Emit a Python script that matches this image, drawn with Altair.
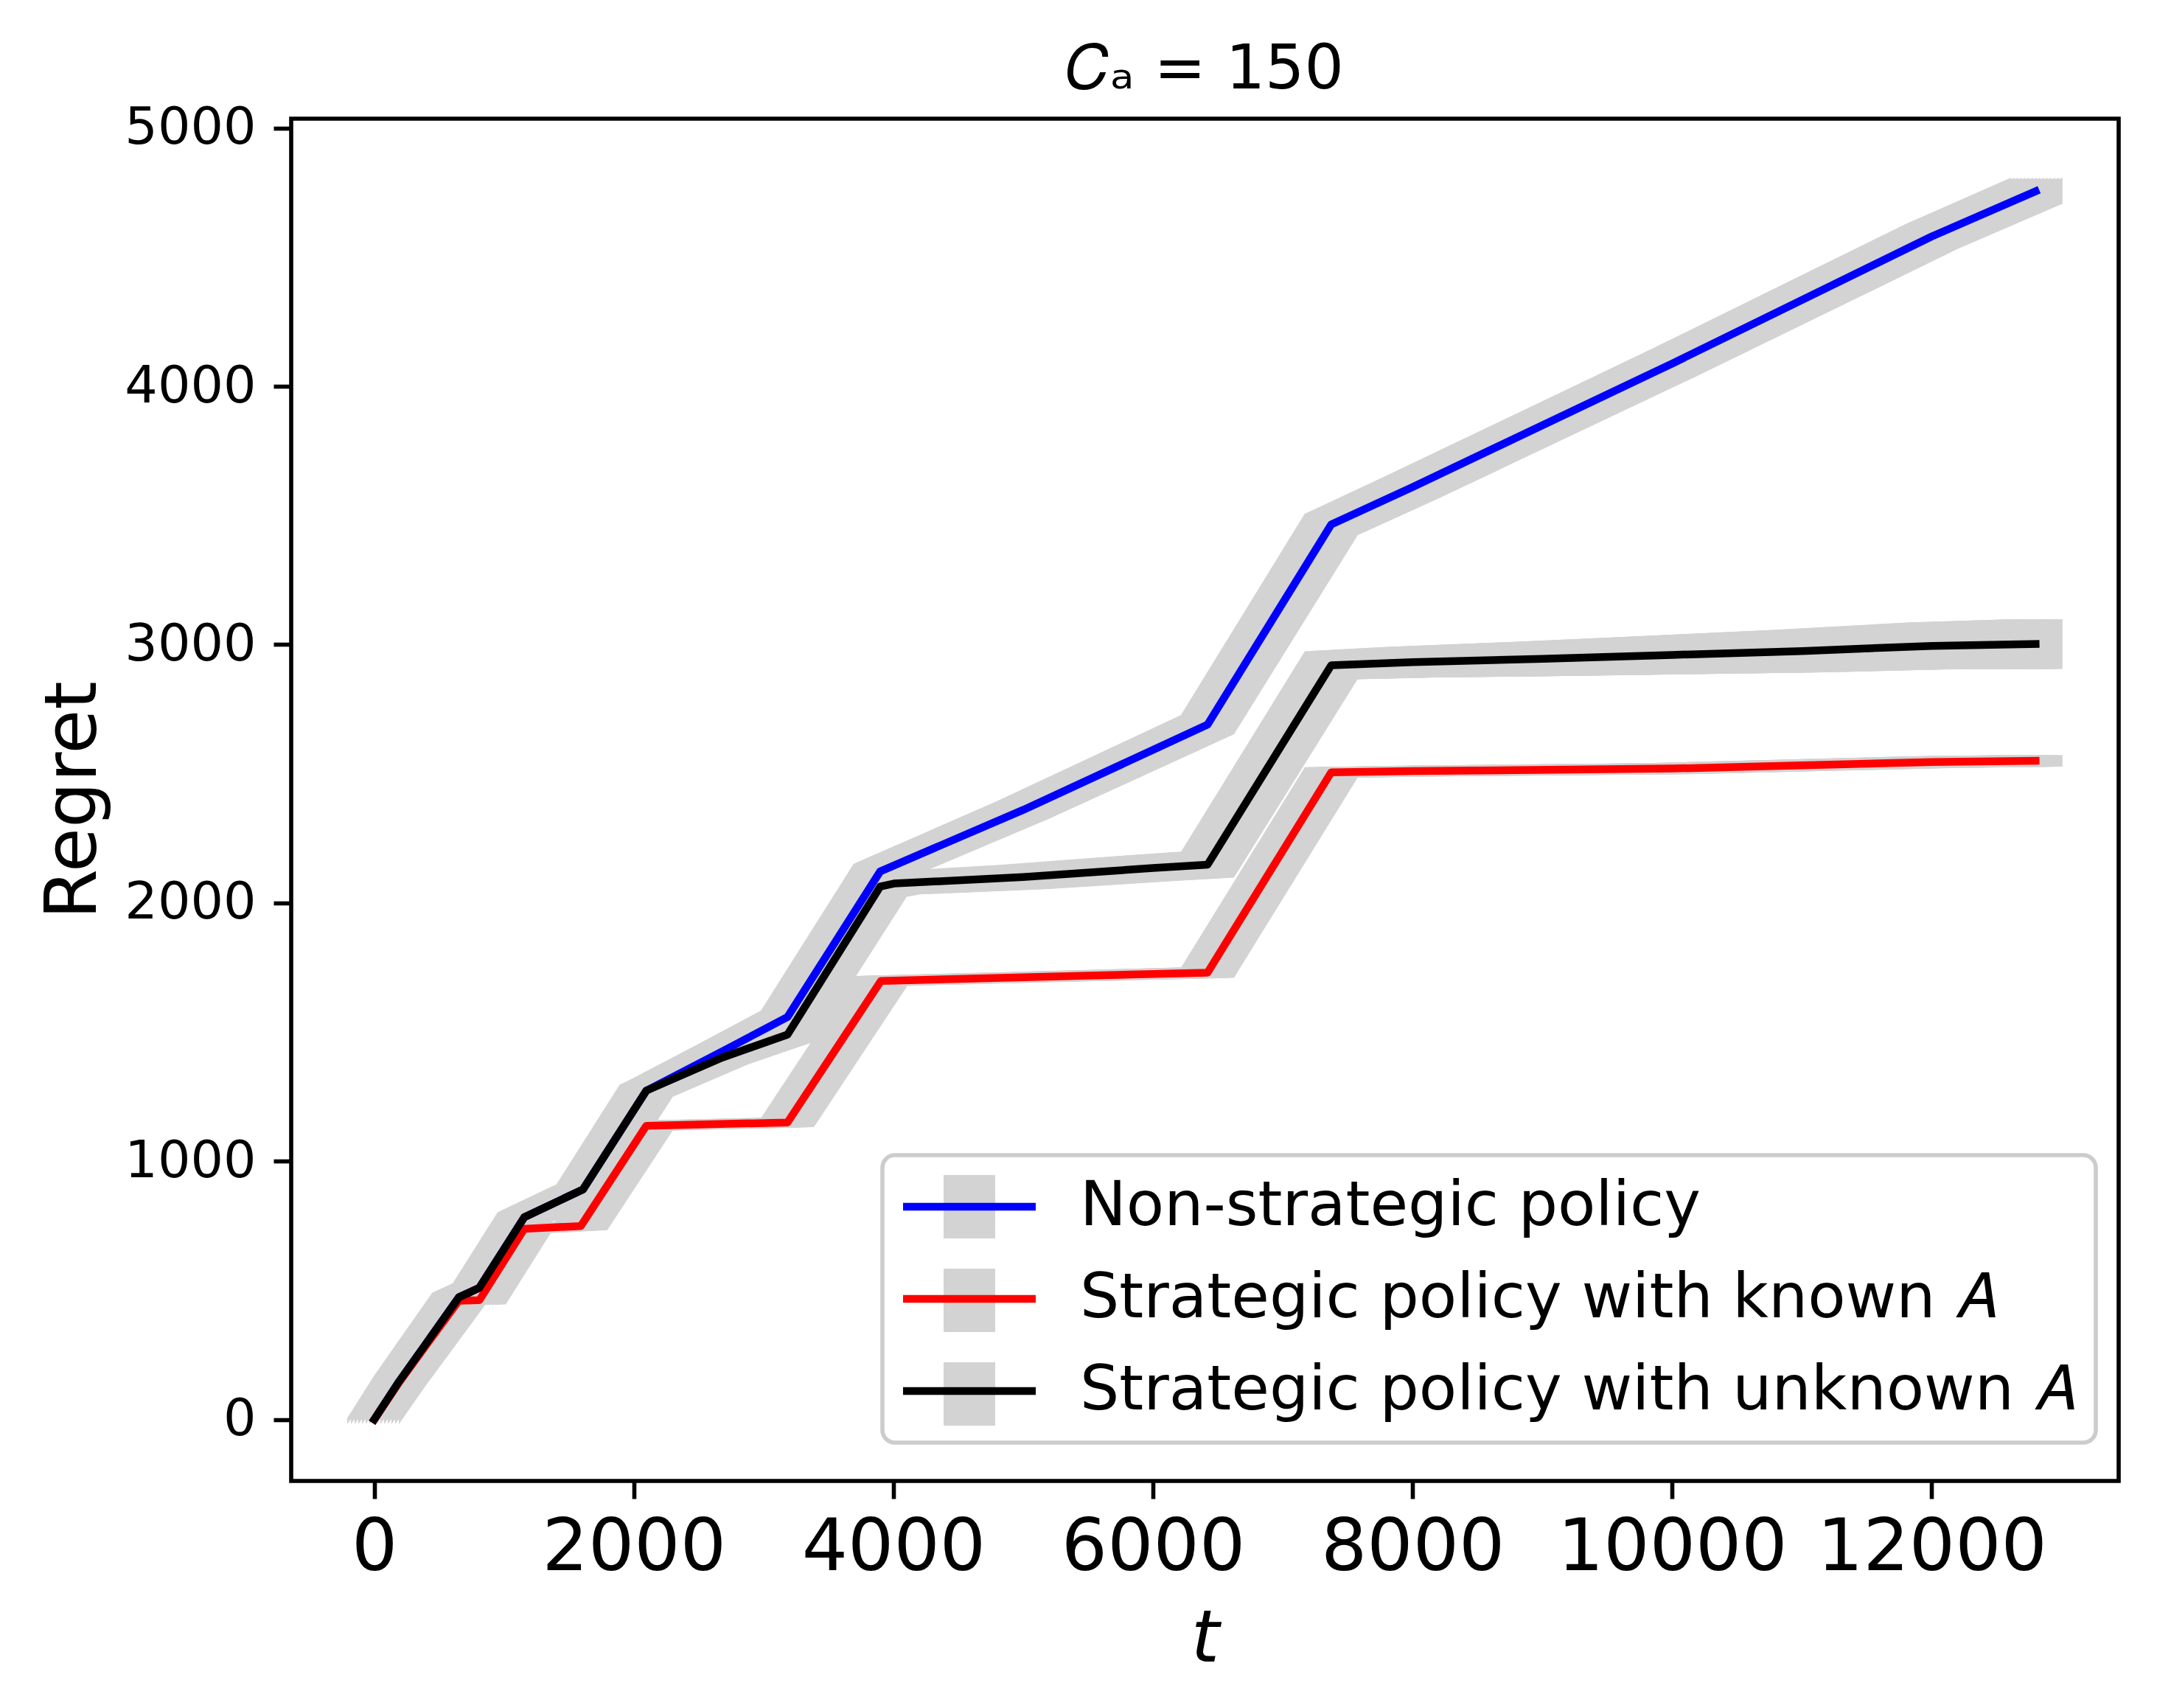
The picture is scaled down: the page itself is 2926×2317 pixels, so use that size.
import altair as alt
import pandas as pd

SERIES = ["Non-strategic policy",
          "Strategic policy with known \U0001D434",
          "Strategic policy with unknown \U0001D434"]
COLORS = ["#0000ff", "#ff0000", "#000000"]
BAND = "#d3d3d3"

t_blue = [0, 193, 391, 652, 810, 1156, 1609, 2096, 2680, 3184, 3898, 5000, 6420, 7373, 8000, 10000, 12000, 12800]
v_blue = [0, 148, 288, 473, 510, 783, 891, 1273, 1425, 1558, 2122, 2360, 2690, 3465, 3610, 4088, 4580, 4755]
e_blue = [3, 10, 12, 14, 14, 16, 16, 18, 20, 22, 26, 30, 34, 38, 40, 42, 44, 46]

t_red = [0, 193, 391, 652, 810, 1156, 1592, 2096, 3184, 3904, 5000, 6420, 7373, 8000, 10000, 12000, 12800]
v_red = [0, 145, 282, 460, 462, 738, 749, 1137, 1150, 1698, 1712, 1730, 2505, 2510, 2520, 2545, 2550]
e_red = [3, 10, 12, 12, 12, 12, 12, 14, 14, 15, 15, 16, 16, 16, 17, 18, 18]

t_black = [0, 193, 391, 652, 810, 1156, 1609, 2096, 2680, 3184, 3898, 4004, 5000, 6000, 6420, 7373, 8000, 9000, 10000, 11000, 12000, 12800]
v_black = [0, 148, 288, 473, 510, 783, 891, 1273, 1401, 1490, 2063, 2075, 2100, 2135, 2148, 2920, 2932, 2945, 2960, 2975, 2995, 3002]
e_black = [3, 10, 12, 14, 14, 16, 16, 20, 22, 24, 36, 38, 42, 45, 46, 50, 55, 62, 70, 78, 86, 92]

x_ticks = [0, 2000, 4000, 6000, 8000, 10000, 12000]
y_ticks = [0, 1000, 2000, 3000, 4000, 5000]

rows = []
for name, ts, vs, es in [(SERIES[0], t_blue, v_blue, e_blue),
                         (SERIES[1], t_red, v_red, e_red),
                         (SERIES[2], t_black, v_black, e_black)]:
    for t, v, e in zip(ts, vs, es):
        rows.append({"series": name, "band": name, "t": t, "v": v, "lo": v - e, "hi": v + e})
df = pd.DataFrame(rows)

FONT = "DejaVu Sans"

x_enc = alt.X("t:Q",
              scale=alt.Scale(domain=[-640, 13440], nice=False, zero=False),
              axis=alt.Axis(values=x_ticks, format="d", title="t", labelLimit=1000,
                            labelFontSize=98, titleFontSize=98, titleFontStyle="italic",
                            titleFontWeight="normal", labelPadding=19, titlePadding=27))
y_axis = alt.Axis(values=y_ticks, format="d", title="Regret", labelLimit=1000,
                  labelFontSize=70, titleFontSize=98, titleFontWeight="normal",
                  labelPadding=24, titlePadding=45)
y_scale = alt.Scale(domain=[-238, 5036], nice=False, zero=False)

common_legend = dict(
    title=None, orient="none", legendX=802, legendY=1406, direction="vertical",
    symbolSize=3600, symbolOffset=48, symbolOpacity=1,
    labelOffset=108, labelFontSize=84, labelFont=FONT,
    labelLimit=3000, rowPadding=41, padding=28)

# grey bars (drawn underneath, no labels); its order is reversed only so that
# its scale differs from the colour scale and the two legends stay separate
fill_legend = alt.Legend(
    symbolType="M-1.1667,-1.4333H1.1667V1.4333H-1.1667Z", symbolStrokeWidth=0,
    labelExpr="''", zindex=1, **common_legend)
stroke_legend = alt.Legend(
    symbolType="M-3,0H3", symbolStrokeWidth=10.5, symbolFillColor="transparent",
    labelColor="black", strokeColor="#cccccc", cornerRadius=17,
    zindex=2, **common_legend)

fill_enc = alt.Fill("band:N", scale=alt.Scale(domain=SERIES[::-1], range=[BAND] * 3), legend=fill_legend)
stroke_enc = alt.Stroke("series:N", scale=alt.Scale(domain=SERIES, range=COLORS), legend=stroke_legend)

layers = []
offsets = list(range(-35, 36, 5))
for off in offsets:
    layers.append(
        alt.Chart(df).mark_area(xOffset=off, stroke=BAND, strokeWidth=3, opacity=1).encode(
            x=x_enc,
            y=alt.Y("lo:Q", scale=y_scale, axis=y_axis, title="Regret"),
            y2="hi:Q",
            fill=fill_enc,
        )
    )
for name in SERIES:
    layers.append(
        alt.Chart(df).transform_filter(alt.datum.series == name).mark_line(
            strokeWidth=10.5, strokeJoin="round", strokeCap="square").encode(
            x=x_enc,
            y=alt.Y("v:Q", scale=y_scale, axis=y_axis, title="Regret"),
            stroke=stroke_enc,
        )
    )

chart = alt.layer(*layers).properties(
    width=2479, height=1848,
    padding={"left": 43, "top": 44, "right": 5, "bottom": 5},
    title=alt.TitleParams("\U0001D436\u2090 = 150", fontSize=84, font=FONT, fontWeight="normal",
                          anchor="middle", frame="group", offset=-83, baseline="bottom"),
).configure(font=FONT).configure_view(
    stroke="black", strokeWidth=5.6
).configure_axis(
    grid=False, domain=False, ticks=True, tickColor="black", tickWidth=5.6, tickSize=24,
    labelColor="black", titleColor="black", labelFont=FONT, titleFont=FONT
).configure_legend(strokeWidth=5.6)

chart.save("out.html", embed_options={"renderer": "svg", "actions": False})
